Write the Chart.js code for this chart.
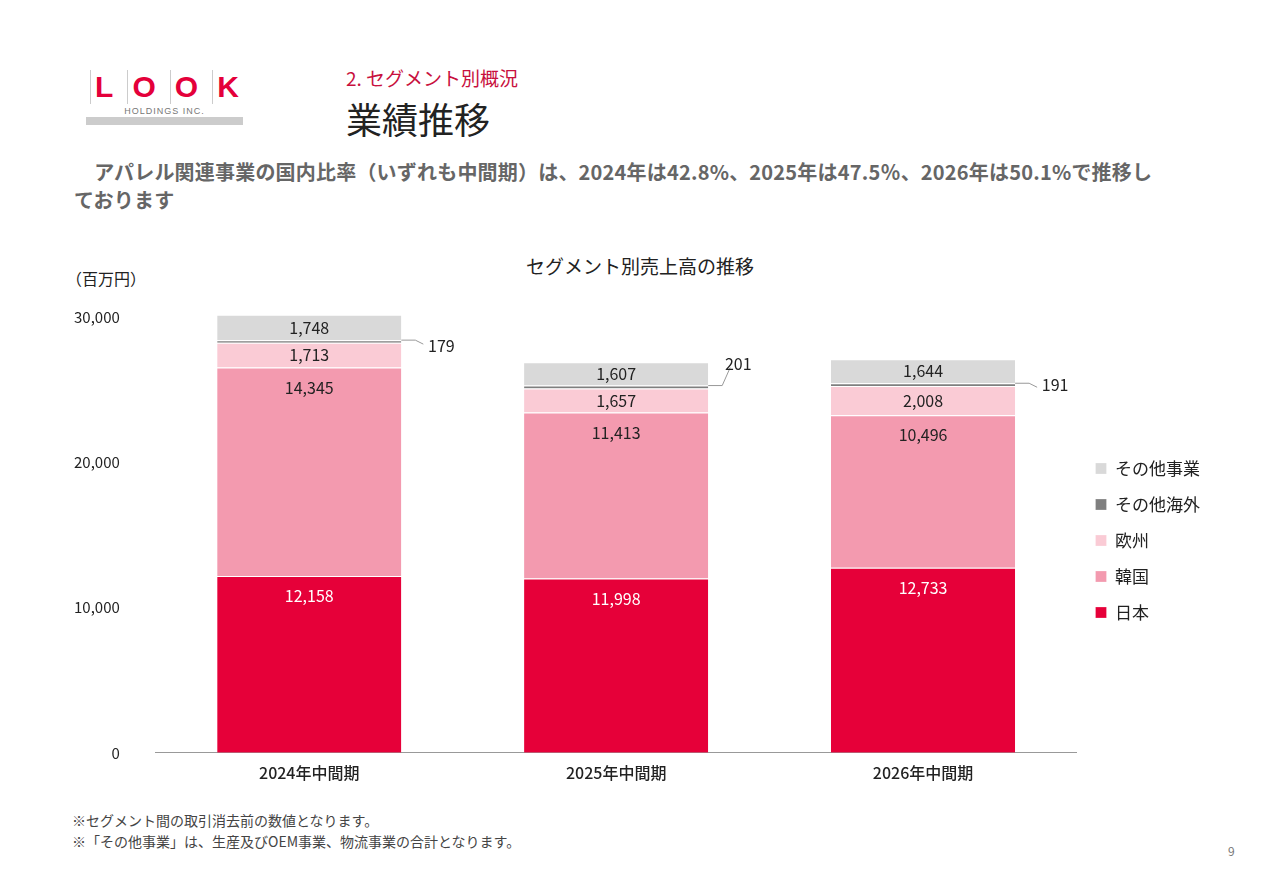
<!DOCTYPE html>
<html><head><meta charset="utf-8">
<script src="https://cdn.jsdelivr.net/npm/chart.js@4"></script>
<style>
body{margin:0;width:1280px;height:886px;background:#fff;font-family:"Noto Sans CJK JP","Noto Sans",sans-serif;position:relative;overflow:hidden}
.abs{position:absolute}
</style></head><body>
<div class="abs" style="left:86px;top:70px;width:157px;height:62px">
 <div style="display:flex;justify-content:space-between;padding:0 4px;font:bold 30px 'Liberation Sans',sans-serif;color:#e4003a;letter-spacing:0">
  <span style="border-left:1px solid #ccc;padding-left:4px">L</span><span style="border-left:1px solid #ccc;padding-left:4px">O</span><span style="border-left:1px solid #ccc;padding-left:4px">O</span><span style="border-left:1px solid #ccc;padding-left:4px">K</span></div>
 <div style="font:9px 'Liberation Sans',sans-serif;color:#777;text-align:center;letter-spacing:1px;margin-top:2px">HOLDINGS INC.</div>
 <div style="height:8px;background:#ccc;margin-top:1px"></div>
</div>
<div class="abs" style="left:346px;top:64px;font-size:19px;color:#c8103e">2. セグメント別概況</div>
<div class="abs" style="left:346px;top:92px;font-size:36px;color:#222">業績推移</div>
<div class="abs" style="left:74px;top:158px;width:1140px;font-size:20px;font-weight:bold;color:#666;line-height:28px;letter-spacing:0.2px">　アパレル関連事業の国内比率（いずれも中間期）は、2024年は42.8%、2025年は47.5％、2026年は50.1%で推移し<br>ております</div>
<div class="abs" style="left:66px;top:266px;font-size:16px;color:#222">（百万円）</div>
<div class="abs" style="left:370px;top:252px;width:540px;text-align:center;font-size:19px;color:#222">セグメント別売上高の推移</div>
<div class="abs" style="left:0;top:810px;left:72px;font-size:14px;color:#444;line-height:21px">※セグメント間の取引消去前の数値となります。<br>※「その他事業」は、生産及びOEM事業、物流事業の合計となります。</div>
<div class="abs" style="left:1228px;top:842px;font-size:12px;color:#777">9</div>
<div class="abs" style="left:0;top:240px;width:1280px;height:560px"><canvas id="c" width="1280" height="560"></canvas></div>
<script>
const categories=["2024年中間期","2025年中間期","2026年中間期"];
const japan=[12158,11998,12733];
const korea=[14345,11413,10496];
const europe=[1713,1657,2008];
const otherOverseas=[179,201,191];
const otherBiz=[1748,1607,1644];
const yTicks=[0,10000,20000,30000];
const F='"Noto Sans CJK JP","Noto Sans",sans-serif';
const labelsPlugin={id:'lbl',afterDatasetsDraw(ch){
 const c=ch.ctx;c.save();c.font='16px '+F;c.textAlign='center';c.textBaseline='middle';
 ch.data.datasets.forEach((ds,di)=>{const m=ch.getDatasetMeta(di);
  m.data.forEach((b,i)=>{const v=ds.data[i];const t=v.toLocaleString('en-US');
   if(di===3){const xr=b.x+b.width/2;c.strokeStyle='#999';c.lineWidth=1;c.beginPath();c.moveTo(xr,b.y);c.lineTo(xr+14,b.y);c.lineTo(xr+22,b.y-(i===1?18:-4));c.stroke();
     c.fillStyle='#222';c.fillText(t,xr+(i===1?30:40),b.y+(i===1?-22:i===0?6:2));return;}
   c.fillStyle=di===0?'#fff':'#222';
   const y=(di===4||di===2)?(b.y+b.base)/2:b.y+20;
   c.fillText(t,b.x,y);});});c.restore();}};
new Chart(document.getElementById('c'),{type:'bar',
 data:{labels:categories,datasets:[
  {label:'日本',data:japan,backgroundColor:'#e60039'},
  {label:'韓国',data:korea,backgroundColor:'#f39aaf'},
  {label:'欧州',data:europe,backgroundColor:'#facbd5'},
  {label:'その他海外',data:otherOverseas,backgroundColor:'#7f7f7f'},
  {label:'その他事業',data:otherBiz,backgroundColor:'#d9d9d9'}].map(d=>({...d,borderColor:'#fff',borderWidth:{top:1},categoryPercentage:1,barPercentage:0.6}))},
 options:{responsive:false,animation:false,
  layout:{padding:{top:55,left:46,right:70,bottom:14}},
  plugins:{legend:{position:'right',reverse:true,labels:{boxWidth:11,boxHeight:11,padding:19,color:'#222',font:{family:F,size:17}}},tooltip:{enabled:false}},
  scales:{x:{stacked:true,grid:{display:false},border:{color:'#999'},ticks:{color:'#222',font:{family:F,size:16,weight:'500'}}},
   y:{stacked:true,min:0,max:31500,afterBuildTicks(s){s.ticks=yTicks.map(v=>({value:v}));},grid:{display:false},border:{display:false},
    ticks:{color:'#222',font:{family:F,size:15},padding:28,callback:v=>v.toLocaleString('en-US')}}}},
 plugins:[labelsPlugin]});
</script></body></html>
